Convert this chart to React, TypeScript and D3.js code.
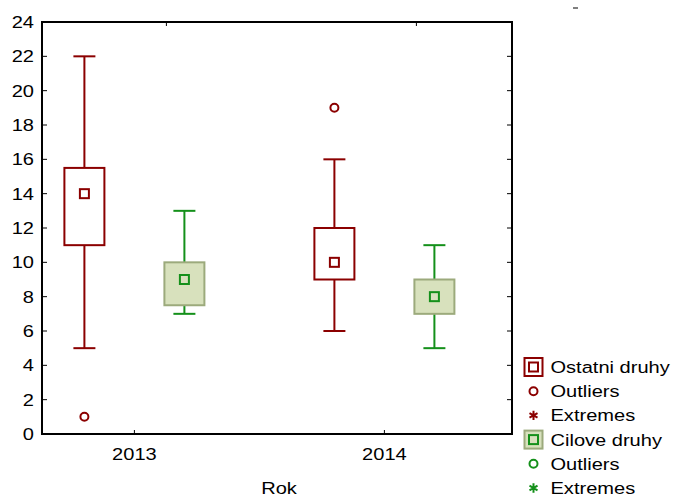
import React, { useRef, useEffect } from 'react';
import * as d3 from 'd3';

// years on x, two groups per year
const years = ['2013', '2014'];
const groups = ['Ostatni druhy', 'Cilove druhy'];
// [year][group] : whisker low, box low, median, box high, whisker high
const whiskLow = [[5, 7], [6, 5]];
const boxLow = [[11, 7.5], [9, 7]];
const medians = [[14, 9], [10, 8]];
const boxHigh = [[15.5, 10], [12, 9]];
const whiskHigh = [[22, 13], [16, 11]];
const outliers = [[[1], []], [[19], []]];
const yTicks = [0, 2, 4, 6, 8, 10, 12, 14, 16, 18, 20, 22, 24];

const lineCol = ['#8b0000', '#14901a'];
const boxFill = ['#ffffff', '#d8e1bd'];
const boxStroke = ['#8b0000', '#9caa7c'];
const font = '"Liberation Sans", Arial, sans-serif';

const App = () => {
    var width = 674, height = 498;
    var margin = { top: 22, right: 162, bottom: 64, left: 42 };

    var x = d3.scalePoint()
        .domain(years)
        .range([margin.left, width - margin.right])
        .padding(0.44)
        .align(0.42);
    var y = d3.scaleLinear()
        .domain([0, 24])
        .range([height - margin.bottom, margin.top]);
    var offset = d3.scalePoint().domain(groups).range([-50, 50]);
    // the top axis ticks sit a bit to the right in the original
    var topShift = 32;

    const ref = useRef(null);
    useEffect(() => {
        const g = d3.select(ref.current);
        g.selectAll('*').remove();
        const left = margin.left, right = width - margin.right;
        const top = margin.top, bottom = height - margin.bottom;

        // text is a little wide in the original, stretch it
        const label = (tx, ty, txt, anchor) => {
            g.append('text')
                .attr('transform', `translate(${tx},${ty}) scale(1.18,1)`)
                .attr('text-anchor', anchor)
                .style('font-family', font).style('font-size', '17px')
                .text(txt);
        };

        // frame with inward ticks
        g.append('rect')
            .attr('x', left).attr('y', top)
            .attr('width', right - left).attr('height', bottom - top)
            .attr('fill', 'none').attr('stroke', '#000').attr('stroke-width', 2);
        yTicks.forEach(t => {
            g.append('line').attr('x1', left).attr('x2', left + 5)
                .attr('y1', y(t)).attr('y2', y(t)).attr('stroke', '#000');
            g.append('line').attr('x1', right).attr('x2', right - 5)
                .attr('y1', y(t)).attr('y2', y(t)).attr('stroke', '#000');
            label(left - 8, y(t) + 6, t, 'end');
        });
        years.forEach(yr => {
            g.append('line').attr('x1', x(yr)).attr('x2', x(yr))
                .attr('y1', bottom).attr('y2', bottom - 4).attr('stroke', '#000');
            g.append('line').attr('x1', x(yr) + topShift).attr('x2', x(yr) + topShift)
                .attr('y1', top).attr('y2', top + 4).attr('stroke', '#000');
            label(x(yr), bottom + 26, yr, 'middle');
        });
        label(279, 494, 'Rok', 'middle');

        // boxes
        years.forEach((yr, i) => {
            groups.forEach((gr, j) => {
                var cx = x(yr) + offset(gr);
                var col = lineCol[j];
                g.append('line').attr('x1', cx).attr('x2', cx)
                    .attr('y1', y(whiskLow[i][j])).attr('y2', y(whiskHigh[i][j]))
                    .attr('stroke', col).attr('stroke-width', 2);
                [whiskLow[i][j], whiskHigh[i][j]].forEach(v => {
                    g.append('line').attr('x1', cx - 11).attr('x2', cx + 11)
                        .attr('y1', y(v)).attr('y2', y(v))
                        .attr('stroke', col).attr('stroke-width', 2);
                });
                g.append('rect').attr('x', cx - 20).attr('y', y(boxHigh[i][j]))
                    .attr('width', 40).attr('height', y(boxLow[i][j]) - y(boxHigh[i][j]))
                    .attr('fill', boxFill[j]).attr('stroke', boxStroke[j]).attr('stroke-width', 2);
                g.append('rect').attr('x', cx - 4.5).attr('y', y(medians[i][j]) - 4.5)
                    .attr('width', 9).attr('height', 9)
                    .attr('fill', 'none').attr('stroke', col).attr('stroke-width', 2);
                outliers[i][j].forEach(v => {
                    g.append('circle').attr('cx', cx).attr('cy', y(v)).attr('r', 4)
                        .attr('fill', 'none').attr('stroke', col).attr('stroke-width', 2);
                });
            });
        });

        // legend
        var lx = 533.5, ly = 367, step = 24.2;
        groups.forEach((gr, j) => {
            var base = ly + j * 3 * step;
            g.append('rect').attr('x', lx - 9).attr('y', base - 9).attr('width', 18).attr('height', 18)
                .attr('fill', boxFill[j]).attr('stroke', boxStroke[j]).attr('stroke-width', 2);
            g.append('rect').attr('x', lx - 4.5).attr('y', base - 4.5).attr('width', 9).attr('height', 9)
                .attr('fill', 'none').attr('stroke', lineCol[j]).attr('stroke-width', 2);
            g.append('circle').attr('cx', lx).attr('cy', base + step).attr('r', 4)
                .attr('fill', 'none').attr('stroke', lineCol[j]).attr('stroke-width', 2);
            g.append('path')
                .attr('transform', `translate(${lx},${base + 2 * step})`)
                .attr('d', d3.symbol().type(d3.symbolAsterisk).size(60)())
                .attr('fill', 'none').attr('stroke', lineCol[j]).attr('stroke-width', 2);
            [gr, 'Outliers', 'Extremes'].forEach((txt, k) => {
                label(lx + 17, base + k * step + 6, txt, 'start');
            });
        });
        // stray mark at top right
        g.append('line').attr('x1', 573).attr('x2', 578).attr('y1', 8).attr('y2', 8)
            .attr('stroke', '#000');
    }, []);

    return (
        <svg width={width} height={height}
            style={{ position: 'absolute', left: 0, top: 0, background: '#fff' }}>
            <g ref={ref}></g>
        </svg>
    );
};

export default App;
